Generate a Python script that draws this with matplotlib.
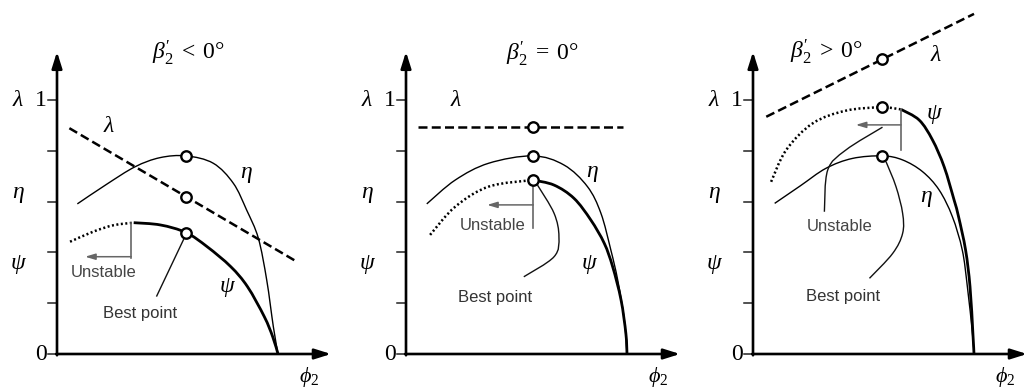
import numpy as np
import matplotlib
matplotlib.use("Agg")
import matplotlib.pyplot as plt
from matplotlib.path import Path
from matplotlib.patches import PathPatch

plt.rcParams["mathtext.fontset"] = "custom"
plt.rcParams["mathtext.rm"] = "Liberation Serif"
plt.rcParams["mathtext.it"] = "Liberation Serif:italic"

# ---------------- data (x = flow coefficient, y = normalised value) ----------------
y_ticks = [0.0, 0.2, 0.4, 0.6, 0.8, 1.0]
titles = [r"$\beta_2^{\prime}\;<\;0°$", r"$\beta_2^{\prime}\;=\;0°$", r"$\beta_2^{\prime}\;>\;0°$"]

# backward-curved blades
eta1_x = [0.092, 0.226, 0.353, 0.466, 0.584, 0.707, 0.798, 0.858, 0.911, 0.949, 0.979, 1.0]
eta1_y = [0.591, 0.669, 0.737, 0.773, 0.780, 0.751, 0.672, 0.567, 0.456, 0.291, 0.107, 0.0]
lam1_x = [0.056, 1.086]
lam1_y = [0.889, 0.363]
psi1_unstable_x = [0.059, 0.165, 0.256, 0.347]
psi1_unstable_y = [0.442, 0.482, 0.507, 0.517]
psi1_x = [0.347, 0.468, 0.584, 0.680, 0.786, 0.862, 0.938, 0.976, 1.0]
psi1_y = [0.517, 0.508, 0.478, 0.422, 0.344, 0.265, 0.147, 0.068, 0.0]
best1_x = 0.584
best1_y = [0.780, 0.617, 0.478]
best1_lead_x = [0.575, 0.450]
best1_lead_y = [0.455, 0.226]
unst1_bar_x = [0.336, 0.336]
unst1_bar_y = [0.517, 0.377]
unst1_arrow_x = [0.336, 0.127]
unst1_arrow_y = 0.383

# radial blades
eta2_x = [0.094, 0.223, 0.374, 0.574, 0.715, 0.821, 0.882, 0.927, 0.958, 0.988, 1.0]
eta2_y = [0.591, 0.685, 0.751, 0.780, 0.744, 0.659, 0.554, 0.409, 0.291, 0.134, 0.0]
lam2_x = [0.056, 0.980]
lam2_y = [0.892, 0.892]
psi2_unstable_x = [0.109, 0.223, 0.374, 0.574]
psi2_unstable_y = [0.469, 0.580, 0.659, 0.685]
psi2_x = [0.574, 0.670, 0.760, 0.836, 0.897, 0.935, 0.973, 0.995, 1.0]
psi2_y = [0.685, 0.665, 0.613, 0.528, 0.436, 0.344, 0.213, 0.080, 0.0]
best2_x = 0.574
best2_y = [0.892, 0.780, 0.685]
best2_lead_x = [0.595, 0.670, 0.692, 0.670, 0.533]
best2_lead_y = [0.665, 0.554, 0.462, 0.383, 0.304]
unst2_bar_x = [0.576, 0.576]
unst2_bar_y = [0.665, 0.495]
unst2_arrow_x = [0.576, 0.367]
unst2_arrow_y = 0.587

# forward-curved blades
eta3_x = [0.098, 0.214, 0.330, 0.450, 0.586, 0.677, 0.767, 0.842, 0.902, 0.947, 0.970, 0.993, 1.0]
eta3_y = [0.593, 0.662, 0.731, 0.770, 0.780, 0.764, 0.718, 0.646, 0.541, 0.409, 0.265, 0.081, 0.0]
lam3_x = [0.060, 1.000]
lam3_y = [0.934, 1.339]
psi3_unstable_x = [0.082, 0.150, 0.270, 0.420, 0.580, 0.670]
psi3_unstable_y = [0.678, 0.803, 0.908, 0.958, 0.971, 0.963]
psi3_x = [0.670, 0.752, 0.812, 0.865, 0.910, 0.930, 0.962, 0.982, 0.995, 1.0]
psi3_y = [0.963, 0.921, 0.843, 0.737, 0.606, 0.541, 0.409, 0.265, 0.081, 0.0]
best3_x = 0.584
best3_y = [1.161, 0.971, 0.780]
best3_lead_x = [0.602, 0.647, 0.677, 0.677, 0.632, 0.527]
best3_lead_y = [0.757, 0.659, 0.554, 0.475, 0.396, 0.298]
unst3_bar_x = [0.670, 0.670]
unst3_bar_y = [0.963, 0.803]
unst3_arrow_x = [0.670, 0.465]
unst3_arrow_y = 0.902
unst3_lead_x = [0.323, 0.338, 0.420, 0.586]
unst3_lead_y = [0.560, 0.724, 0.803, 0.893]

panels = [
    dict(eta=(eta1_x, eta1_y), lam=(lam1_x, lam1_y),
         psi_u=(psi1_unstable_x, psi1_unstable_y), psi=(psi1_x, psi1_y),
         best_x=best1_x, best_y=best1_y, best_lead=(best1_lead_x, best1_lead_y),
         bar=(unst1_bar_x, unst1_bar_y), arrow=(unst1_arrow_x, unst1_arrow_y),
         unst_lead=None,
         lam_lbl=(0.233, 0.895), eta_lbl=(0.855, 0.713), psi_lbl=(0.771, 0.265),
         title_xy=(0.595, 1.185), unst_txt=(0.209, 0.319), best_txt=(0.377, 0.161)),
    dict(eta=(eta2_x, eta2_y), lam=(lam2_x, lam2_y),
         psi_u=(psi2_unstable_x, psi2_unstable_y), psi=(psi2_x, psi2_y),
         best_x=best2_x, best_y=best2_y, best_lead=(best2_lead_x, best2_lead_y),
         bar=(unst2_bar_x, unst2_bar_y), arrow=(unst2_arrow_x, unst2_arrow_y),
         unst_lead=None,
         lam_lbl=(0.223, 1.0), eta_lbl=(0.844, 0.718), psi_lbl=(0.829, 0.357),
         title_xy=(0.617, 1.184), unst_txt=(0.390, 0.505), best_txt=(0.405, 0.224)),
    dict(eta=(eta3_x, eta3_y), lam=(lam3_x, lam3_y),
         psi_u=(psi3_unstable_x, psi3_unstable_y), psi=(psi3_x, psi3_y),
         best_x=best3_x, best_y=best3_y, best_lead=(best3_lead_x, best3_lead_y),
         bar=(unst3_bar_x, unst3_bar_y), arrow=(unst3_arrow_x, unst3_arrow_y),
         unst_lead=(unst3_lead_x, unst3_lead_y),
         lam_lbl=(0.827, 1.177), eta_lbl=(0.782, 0.619), psi_lbl=(0.820, 0.948),
         title_xy=(0.332, 1.19), unst_txt=(0.392, 0.501), best_txt=(0.407, 0.226)),
]

# ---------------- layout ----------------
W, H = 1028, 392
origin_px = [57, 406, 753]
x_unit, y_unit, base_px = 221.0, 254.0, 354.0
left_px, right_px = 57, 275

SERIF = "Liberation Serif"
SANS = "Liberation Sans"


def smooth_path(xs, ys):
    """Cubic Bezier path passing through every given point (Catmull-Rom)."""
    p = np.column_stack([xs, ys]).astype(float)
    verts, codes = [p[0]], [Path.MOVETO]
    n = len(p)
    for i in range(n - 1):
        p0 = p[i - 1] if i > 0 else p[i]
        p1, p2 = p[i], p[i + 1]
        p3 = p[i + 2] if i + 2 < n else p[i + 1]
        verts += [p1 + (p2 - p0) / 6.0, p2 - (p3 - p1) / 6.0, p2]
        codes += [Path.CURVE4] * 3
    return Path(verts, codes)


def draw_curve(ax, xs, ys, **kw):
    ax.add_patch(PathPatch(smooth_path(xs, ys), fill=False, clip_on=False, **kw))


fig = plt.figure(figsize=(W / 100, H / 100), dpi=100)
fig.patch.set_facecolor("white")

for i, pn in enumerate(panels):
    ox = origin_px[i]
    ax = fig.add_axes([(ox - left_px) / W, 0, (left_px + right_px) / W, 1])
    ax.set_xlim(-left_px / x_unit, right_px / x_unit)
    ax.set_ylim(-(H - base_px) / y_unit, base_px / y_unit)
    ax.set_axis_off()

    # coordinate axes with arrowheads
    arrow_kw = dict(arrowstyle="-|>,head_length=0.7,head_width=0.22", lw=1.9,
                    color="black", shrinkA=0, shrinkB=0, mutation_scale=14)
    ax.annotate("", xy=(0, 1.19), xytext=(0, -0.005), arrowprops=arrow_kw)
    ax.annotate("", xy=(1.24, 0), xytext=(-0.004, 0), arrowprops=arrow_kw)
    for t in y_ticks:
        ax.plot([-0.041, 0], [t, t], color="#222", lw=1.1, clip_on=False)
    ax.text(-0.045, 1.0, "1", ha="right", va="center", fontsize=17, family=SERIF)
    ax.text(-0.045, 0.0, "0", ha="right", va="center", fontsize=17, family=SERIF)
    ax.text(-0.18, 1.0, "λ", ha="center", va="center", fontsize=17, family=SERIF, style="italic")
    ax.text(-0.175, 0.634, "η", ha="center", va="center", fontsize=17, family=SERIF, style="italic")
    ax.text(-0.175, 0.358, "ψ", ha="center", va="center", fontsize=17, family=SERIF, style="italic")
    ax.text(1.14, -0.09, r"$\phi_2$", ha="center", va="center", fontsize=16)
    ax.text(*pn["title_xy"], titles[i], ha="center", va="center", fontsize=17)

    # characteristic curves
    draw_curve(ax, *pn["eta"], color="black", lw=1.0)
    draw_curve(ax, *pn["psi"], color="black", lw=2.0, capstyle="butt")
    draw_curve(ax, *pn["psi_u"], color="black", lw=1.8, linestyle=(0, (0.8, 1.0)))
    ax.plot(*pn["lam"], color="black", lw=1.8, dashes=(3.6, 1.7), clip_on=False)

    # best efficiency points
    ax.plot([pn["best_x"]] * 3, pn["best_y"], "o", ms=7.5, mfc="white",
            mec="black", mew=1.7, zorder=5, clip_on=False)

    # annotations
    draw_curve(ax, *pn["best_lead"], color="#111", lw=1.0)
    bx, by = pn["bar"]
    ax.plot(bx, by, color="#666", lw=1.2, clip_on=False)
    axs, ay = pn["arrow"]
    ax.annotate("", xy=(axs[1], ay), xytext=(axs[0], ay),
                arrowprops=dict(arrowstyle="-|>,head_length=0.5,head_width=0.15",
                                lw=1.1, color="#666", shrinkA=0, shrinkB=0,
                                mutation_scale=12))
    if pn["unst_lead"] is not None:
        draw_curve(ax, *pn["unst_lead"], color="#111", lw=1.0)
    ax.text(*pn["unst_txt"], "Unstable", ha="center", va="center", fontsize=12,
            family=SANS, color="#444")
    ax.text(*pn["best_txt"], "Best point", ha="center", va="center", fontsize=12,
            family=SANS, color="#333")

    ax.text(*pn["lam_lbl"], "λ", ha="center", va="center", fontsize=17, family=SERIF, style="italic")
    ax.text(*pn["eta_lbl"], "η", ha="center", va="center", fontsize=17, family=SERIF, style="italic")
    ax.text(*pn["psi_lbl"], "ψ", ha="center", va="center", fontsize=17, family=SERIF, style="italic")

fig.savefig("out.png", dpi=100, facecolor="white")
